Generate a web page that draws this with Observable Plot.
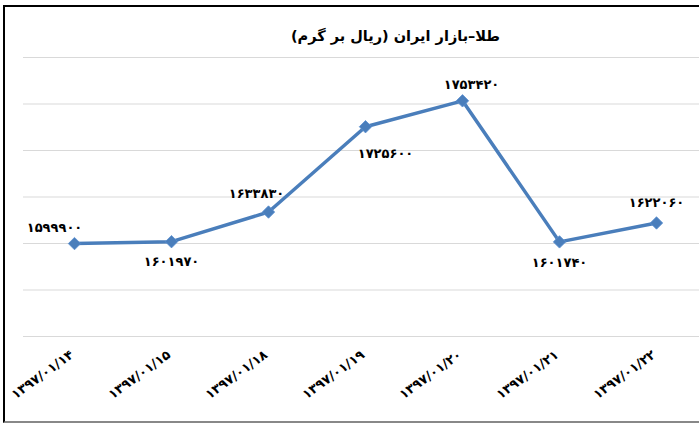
<!DOCTYPE html>
<html>
<head>
<meta charset="utf-8">
<script src="https://cdn.jsdelivr.net/npm/d3@7"></script>
<script src="https://cdn.jsdelivr.net/npm/@observablehq/plot@0.6"></script>
<style>
  html, body { margin: 0; padding: 0; background: #fff; overflow: hidden; }
  #wrap { position: relative; width: 699px; height: 423px; overflow: hidden; }
  #border { position: absolute; left: 3px; top: 5px; width: 740px; height: 414px;
            border-left: 2px solid #000; border-top: 2px solid #000; border-bottom: 2px solid #888;
            pointer-events: none; }
  svg { display: block; }
</style>
</head>
<body>
<div id="wrap"><div id="border"></div></div>
<script>
// Chart data
const title = "طلا–بازار ایران (ریال بر گرم)";
const dates = ["۱۳۹۷/۰۱/۱۴", "۱۳۹۷/۰۱/۱۵", "۱۳۹۷/۰۱/۱۸", "۱۳۹۷/۰۱/۱۹", "۱۳۹۷/۰۱/۲۰", "۱۳۹۷/۰۱/۲۱", "۱۳۹۷/۰۱/۲۲"];
const prices = [1599900, 1601970, 1633830, 1725600, 1753420, 1601740, 1622060];
const yTicks = [1500000, 1550000, 1600000, 1650000, 1700000, 1750000, 1800000];

// Label nudges (layout only)
const labelDx = [-20, 0, -12, 20, 9, 0, 0];
const labelDy = [-16, 20, -18, 27, -16, 21, -20];

const toPersian = n => String(n).replace(/\d/g, d => "۰۱۲۳۴۵۶۷۸۹"[d]);
const rows = dates.map((d, i) => ({date: d, price: prices[i], dx: labelDx[i], dy: labelDy[i]}));

const blue = "#4a7ebb";
const font = "'DejaVu Sans', sans-serif";

const chart = Plot.plot({
  width: 699,
  height: 423,
  marginLeft: 23,
  marginRight: 0,
  marginTop: 57,
  marginBottom: 87,
  style: {fontFamily: font, background: "transparent", overflow: "visible"},
  x: {type: "point", domain: dates, range: [73, 657], padding: 0, axis: null},
  y: {domain: [1500000, 1800000], axis: null},
  marks: [
    Plot.ruleY(yTicks, {stroke: "#d9d9d9", strokeWidth: 1}),
    Plot.line(rows, {x: "date", y: "price", stroke: blue, strokeWidth: 3.5}),
    Plot.dot(rows, {x: "date", y: "price", symbol: "diamond2", r: 5.6, fill: blue, stroke: "#5b8fd0", strokeWidth: 0.8}),
    ...rows.map(r => Plot.text([r], {x: "date", y: "price", text: d => toPersian(d.price),
      dx: r.dx, dy: r.dy, fontSize: 13, fontWeight: "bold", fill: "#000"})),
    Plot.text(dates, {x: d => d, frameAnchor: "bottom", dy: 20, rotate: -36, textAnchor: "end",
      text: d => d, fontSize: 13, fontWeight: "bold", fill: "#000"}),
    Plot.text([title], {frameAnchor: "top", dx: 34, dy: -27, text: d => d + "\u200F",
      fontSize: 14.5, fontWeight: "bold", fill: "#000"})
  ]
});
document.getElementById("wrap").prepend(chart);
</script>
</body>
</html>
